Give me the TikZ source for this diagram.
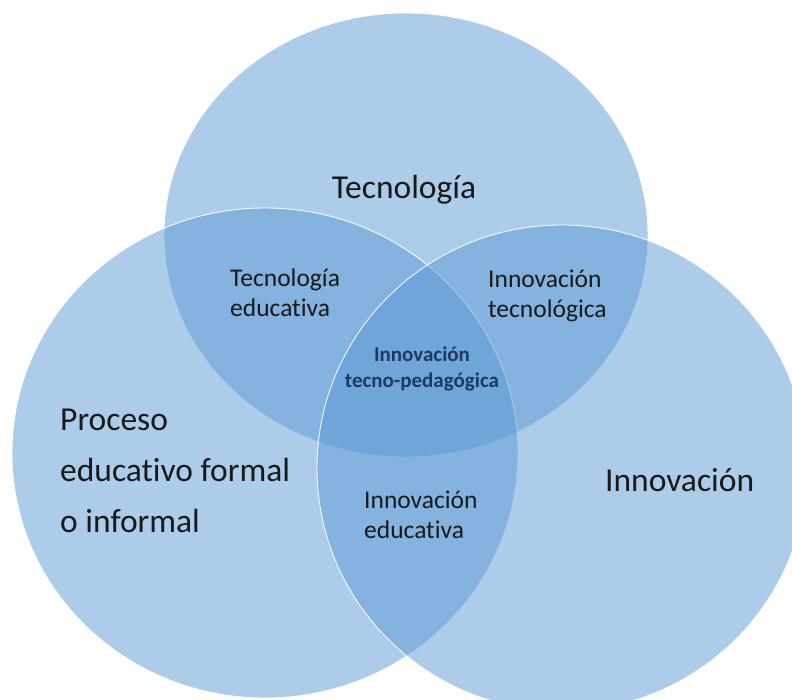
\documentclass[tikz,border=0pt]{standalone}
\usepackage{fontspec}
\setmainfont{Carlito}[Ligatures={NoCommon}]
\definecolor{vennblue}{HTML}{5B9BD5}
\definecolor{navytext}{HTML}{1F3864}
\tikzset{
  venn/.style={fill=vennblue, fill opacity=0.5, draw=white, draw opacity=0.9, line width=0.9pt},
  biglabel/.style={inner sep=0pt, text=black!90, font=\fontsize{33.5}{51}\selectfont, align=left},
  midlabel/.style={inner sep=0pt, text=black!90, font=\fontsize{25.5}{30}\selectfont, align=left},
  corelabel/.style={inner sep=0pt, text=navytext, font=\bfseries\fontsize{21}{26}\selectfont, align=center}
}
\begin{document}
\begin{tikzpicture}[x=1pt,y=-1pt]
\useasboundingbox (0,0) rectangle (792,700);
\clip (0,0) rectangle (792,700);
\fill[white] (0,0) rectangle (792,700);
% circles (drawn in order: top, left, right)
\path[venn] (406,235) ellipse [x radius=242pt, y radius=222pt];
\path[venn] (265,453) ellipse [x radius=253pt, y radius=245pt];
\path[venn] (562,468) ellipse [x radius=245pt, y radius=243pt];
% labels
\node[biglabel, anchor=center] (tec) at (404,190) {Tecnología};
\node[biglabel, anchor=west] (proc) at (60,471) {Proceso\\educativo formal\\o informal};
\node[biglabel, anchor=west] (inn) at (605,480) {Innovación};
\node[midlabel, anchor=west] (teced) at (230,293) {Tecnología\\educativa};
\node[midlabel, anchor=west] (inntec) at (488,296) {Innovación\\tecnológica};
\node[midlabel, anchor=west] (inned) at (364,515) {Innovación\\educativa};
\node[corelabel] (core) at (422,369) {Innovación\\tecno-pedagógica};
\end{tikzpicture}
\end{document}
